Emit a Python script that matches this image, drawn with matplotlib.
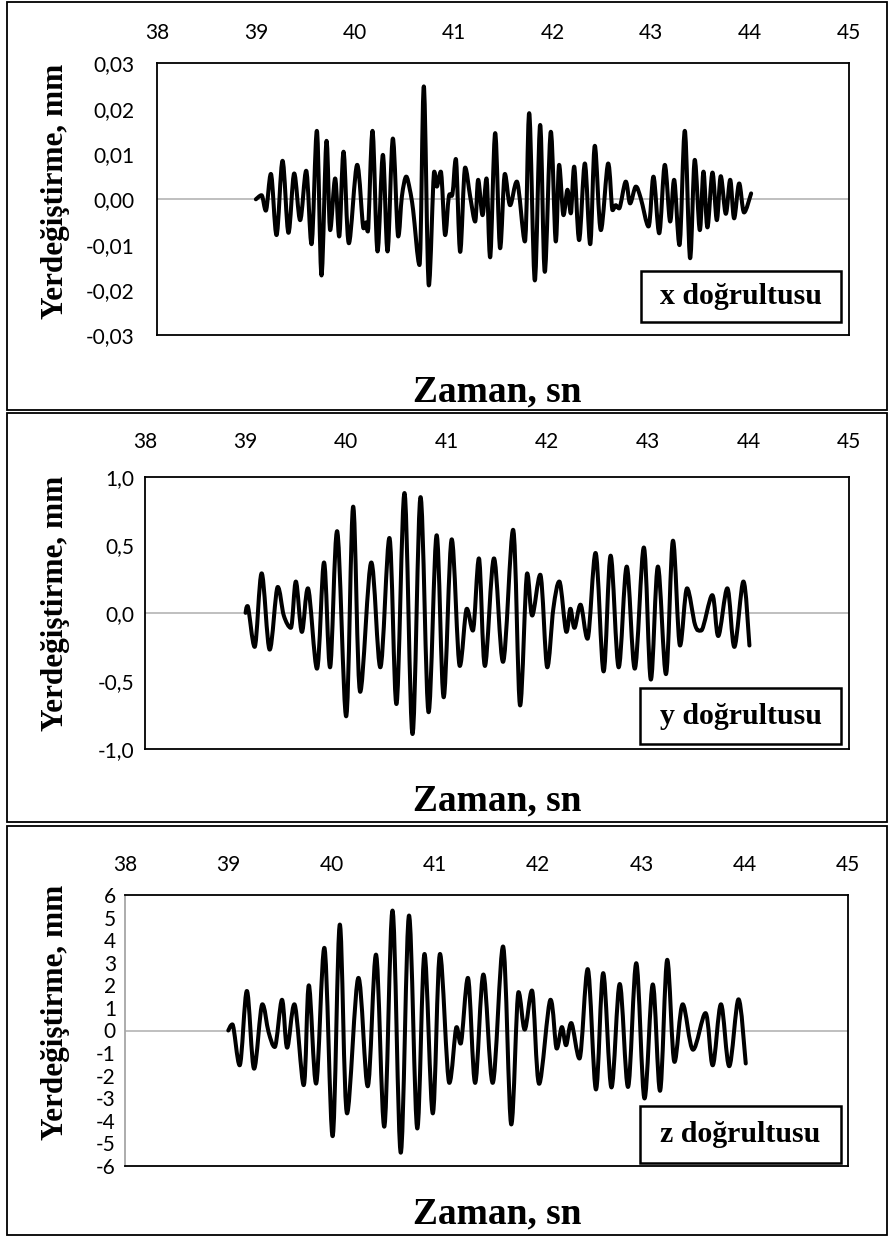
import matplotlib
matplotlib.use("Agg")
import matplotlib.pyplot as plt
from matplotlib.path import Path
from matplotlib.patches import PathPatch, Rectangle

W, H = 891, 1238
SERIF = "Liberation Serif"
SANS = "Lato"

# x doğrultusu (mm)
t_x = [39.000, 39.057, 39.101, 39.152, 39.209, 39.270, 39.330, 39.388, 39.448, 39.509,
       39.563, 39.617, 39.664, 39.715, 39.752, 39.802, 39.843, 39.887, 39.941, 40.025,
       40.089, 40.113, 40.133, 40.180, 40.231, 40.285, 40.332, 40.386, 40.440, 40.477,
       40.521, 40.558, 40.591, 40.655, 40.699, 40.750, 40.804, 40.831, 40.871, 40.915,
       40.952, 40.989, 41.023, 41.067, 41.117, 41.168, 41.218, 41.249, 41.293, 41.333,
       41.370, 41.421, 41.471, 41.519, 41.572, 41.640, 41.721, 41.765, 41.822, 41.876,
       41.923, 41.984, 42.034, 42.068, 42.112, 42.152, 42.186, 42.220, 42.270, 42.328,
       42.382, 42.429, 42.490, 42.564, 42.608, 42.641, 42.675, 42.742, 42.786, 42.844,
       42.894, 42.972, 43.022, 43.080, 43.137, 43.191, 43.231, 43.285, 43.339, 43.393,
       43.440, 43.491, 43.528, 43.568, 43.619, 43.663, 43.703, 43.754, 43.798, 43.838,
       43.889, 43.939, 44.010]
d_x = [0.0000, 0.0009, -0.0025, 0.0056, -0.0079, 0.0085, -0.0074, 0.0057, -0.0046, 0.0063,
       -0.0099, 0.0151, -0.0168, 0.0129, -0.0068, 0.0046, -0.0082, 0.0105, -0.0097, 0.0076,
       -0.0064, -0.0051, -0.0071, 0.0151, -0.0115, 0.0098, -0.0115, 0.0134, -0.0082, 0.0006,
       0.0050, 0.0021, -0.0024, -0.0145, 0.0249, -0.0190, 0.0061, 0.0028, 0.0061, -0.0079,
       0.0006, 0.0012, 0.0089, -0.0116, 0.0070, 0.0006, -0.0049, 0.0043, -0.0035, 0.0046,
       -0.0128, 0.0146, -0.0108, 0.0056, -0.0013, 0.0039, -0.0093, 0.0190, -0.0179, 0.0164,
       -0.0160, 0.0149, -0.0093, 0.0076, -0.0035, 0.0021, -0.0031, 0.0072, -0.0090, 0.0079,
       -0.0099, 0.0118, -0.0068, 0.0079, -0.0024, -0.0013, -0.0020, 0.0039, -0.0009, 0.0028,
       0.0002, -0.0060, 0.0050, -0.0075, 0.0076, -0.0049, 0.0043, -0.0101, 0.0151, -0.0130,
       0.0087, -0.0068, 0.0061, -0.0062, 0.0059, -0.0046, 0.0051, -0.0032, 0.0043, -0.0042,
       0.0035, -0.0029, 0.0013]

# y doğrultusu (mm)
t_y = [39.00, 39.02, 39.09, 39.16, 39.24, 39.32, 39.38, 39.45, 39.50, 39.56,
       39.62, 39.71, 39.78, 39.84, 39.91, 40.00, 40.07, 40.14, 40.25, 40.34,
       40.43, 40.50, 40.58, 40.66, 40.74, 40.82, 40.90, 40.97, 41.05, 41.13,
       41.20, 41.26, 41.32, 41.38, 41.47, 41.56, 41.66, 41.73, 41.80, 41.85,
       41.93, 42.00, 42.06, 42.12, 42.19, 42.23, 42.27, 42.33, 42.40, 42.48,
       42.56, 42.63, 42.71, 42.79, 42.87, 42.96, 43.03, 43.10, 43.18, 43.25,
       43.32, 43.39, 43.47, 43.53, 43.64, 43.70, 43.79, 43.86, 43.95, 44.01]
d_y = [0.00, 0.05, -0.25, 0.29, -0.27, 0.19, -0.02, -0.11, 0.23, -0.14,
       0.18, -0.41, 0.37, -0.40, 0.60, -0.76, 0.78, -0.58, 0.37, -0.40,
       0.55, -0.67, 0.88, -0.89, 0.85, -0.73, 0.57, -0.62, 0.54, -0.39,
       0.03, -0.13, 0.40, -0.39, 0.40, -0.36, 0.61, -0.68, 0.29, -0.02,
       0.28, -0.40, 0.03, 0.23, -0.14, 0.03, -0.11, 0.06, -0.19, 0.44,
       -0.43, 0.42, -0.40, 0.34, -0.41, 0.48, -0.49, 0.34, -0.45, 0.53,
       -0.24, 0.18, -0.09, -0.13, 0.13, -0.17, 0.18, -0.25, 0.23, -0.24]

# z doğrultusu (mm)
t_z = [39.00, 39.04, 39.11, 39.18, 39.25, 39.33, 39.39, 39.45, 39.52, 39.57,
       39.64, 39.73, 39.78, 39.85, 39.93, 40.01, 40.08, 40.15, 40.26, 40.35,
       40.43, 40.51, 40.59, 40.67, 40.75, 40.83, 40.90, 40.98, 41.05, 41.14,
       41.21, 41.25, 41.32, 41.39, 41.47, 41.56, 41.66, 41.74, 41.81, 41.87,
       41.94, 42.01, 42.12, 42.18, 42.23, 42.27, 42.32, 42.40, 42.48, 42.56,
       42.63, 42.71, 42.79, 42.87, 42.95, 43.03, 43.11, 43.18, 43.25, 43.32,
       43.40, 43.50, 43.62, 43.69, 43.77, 43.85, 43.94, 44.01]
d_z = [0.00, 0.27, -1.54, 1.75, -1.69, 1.16, -0.07, -0.73, 1.36, -0.76,
       1.16, -2.42, 2.00, -2.35, 3.66, -4.68, 4.69, -3.67, 2.33, -2.47,
       3.36, -4.26, 5.31, -5.41, 5.09, -4.34, 3.39, -3.67, 3.39, -2.32,
       0.15, -0.58, 2.33, -2.32, 2.48, -2.32, 3.72, -4.16, 1.70, 0.04,
       1.77, -2.36, 1.36, -0.80, 0.15, -0.65, 0.33, -1.24, 2.72, -2.61,
       2.54, -2.52, 2.06, -2.50, 2.98, -3.01, 2.04, -2.67, 3.13, -1.39,
       1.16, -0.85, 0.77, -1.54, 1.16, -1.58, 1.38, -1.46]

zaman_ticks = [38, 39, 40, 41, 42, 43, 44, 45]
zaman_labels = ["38", "39", "40", "41", "42", "43", "44", "45"]

x_yticks = [-0.03, -0.02, -0.01, 0.0, 0.01, 0.02, 0.03]
x_ylabels = ["-0,03", "-0,02", "-0,01", "0,00", "0,01", "0,02", "0,03"]
y_yticks = [-1.0, -0.5, 0.0, 0.5, 1.0]
y_ylabels = ["-1,0", "-0,5", "0,0", "0,5", "1,0"]
z_yticks = [-6, -5, -4, -3, -2, -1, 0, 1, 2, 3, 4, 5, 6]
z_ylabels = ["-6", "-5", "-4", "-3", "-2", "-1", "0", "1", "2", "3", "4", "5", "6"]

panel_names = ["x doğrultusu", "y doğrultusu", "z doğrultusu"]


def smooth_path(t, v):
    # Excel-like smoothed line: cubic Bezier through the read points
    n = len(t)
    mt, mv = [], []
    for i in range(n):
        a = max(i - 1, 0)
        b = min(i + 1, n - 1)
        dt = (t[b] - t[a]) / 2
        dv = (v[b] - v[a]) / 2
        if 0 < i < n - 1 and (v[i] - v[i - 1]) * (v[i + 1] - v[i]) <= 0:
            dv = 0.0
        mt.append(dt)
        mv.append(dv)
    verts = [(t[0], v[0])]
    codes = [Path.MOVETO]
    for i in range(n - 1):
        verts.append((t[i] + mt[i] / 3, v[i] + mv[i] / 3))
        verts.append((t[i + 1] - mt[i + 1] / 3, v[i + 1] - mv[i + 1] / 3))
        verts.append((t[i + 1], v[i + 1]))
        codes += [Path.CURVE4] * 3
    return Path(verts, codes)


def frac(x0, y0, x1, y1):
    return [x0 / W, 1 - y1 / H, (x1 - x0) / W, (y1 - y0) / H]


fig = plt.figure(figsize=(W / 100, H / 100), dpi=100)

panels = [
    dict(t=t_x, d=d_x, ticks=x_yticks, labels=x_ylabels, lim=(-0.03, 0.03),
         ax=(157, 63.3, 849, 335.3), outer=(6.5, 2, 886.5, 409.5),
         leg=(641, 271, 841, 322), ylab_y=191, xlab_y=392, ypad=16, xpad=14.5),
    dict(t=t_y, d=d_y, ticks=y_yticks, labels=y_ylabels, lim=(-1.0, 1.0),
         ax=(145, 476.7, 849, 749), outer=(6.5, 413, 886.5, 822),
         leg=(640, 688, 841, 744), ylab_y=603, xlab_y=801, ypad=7.5, xpad=17.5),
    dict(t=t_z, d=d_z, ticks=z_yticks, labels=z_ylabels, lim=(-6, 6),
         ax=(125, 895, 848, 1166), outer=(6.5, 826, 886.5, 1235),
         leg=(640, 1106, 841, 1163), ylab_y=1012, xlab_y=1214, ypad=6.5, xpad=14.5),
]

for k, p in enumerate(panels):
    # outer chart frame
    o = frac(*p["outer"])
    fig.patches.append(Rectangle(o[:2], o[2], o[3], transform=fig.transFigure,
                                 fill=False, ec="black", lw=1.3))

    ax = fig.add_axes(frac(*p["ax"]))
    ax.set_xlim(38, 45)
    ax.set_ylim(*p["lim"])
    ax.axhline(0, color="#bfbfbf", lw=1.4, zorder=1)
    ax.add_patch(PathPatch(smooth_path(p["t"], p["d"]), fill=False, ec="black",
                           lw=2.9, capstyle="round", joinstyle="round", zorder=3))

    ax.xaxis.tick_top()
    ax.set_xticks(zaman_ticks)
    ax.set_xticklabels(zaman_labels, fontfamily=SANS, fontsize=15)
    ax.set_yticks(p["ticks"])
    ax.set_yticklabels(p["labels"], fontfamily=SANS, fontsize=15)
    ax.tick_params(axis="x", length=0, pad=p["xpad"])
    ax.tick_params(axis="y", length=0, pad=p["ypad"])
    for s in ax.spines.values():
        s.set_color("black")
        s.set_linewidth(1.3)
    if k == 2:
        ax.spines["left"].set_color("#a6a6a6")

    # direction label box
    lx0, ly0, lx1, ly1 = p["leg"]
    r = frac(*p["leg"])
    fig.patches.append(Rectangle(r[:2], r[2], r[3], transform=fig.transFigure,
                                 fill=True, fc="white", ec="black", lw=1.8, zorder=5))
    fig.text((lx0 + lx1) / 2 / W, 1 - (ly0 + ly1) / 2 / H, panel_names[k],
             fontfamily=SERIF, fontweight="bold", fontsize=21.5,
             ha="center", va="center", zorder=6)

    fig.text(55 / W, 1 - p["ylab_y"] / H, "Yerdeğiştirme, mm", rotation=90,
             fontfamily=SERIF, fontweight="bold", fontsize=22.5, ha="center", va="center")
    fig.text(497 / W, 1 - p["xlab_y"] / H, "Zaman, sn",
             fontfamily=SERIF, fontweight="bold", fontsize=27, ha="center", va="center")

fig.savefig("out.png", dpi=100)
